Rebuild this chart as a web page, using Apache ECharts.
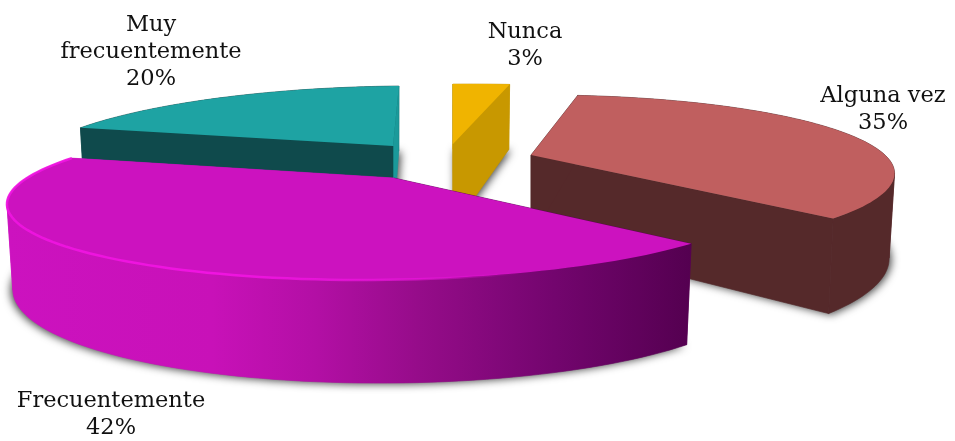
<!DOCTYPE html>
<html><head><meta charset="utf-8">
<style>html,body{margin:0;padding:0;background:#fff}#c{width:955px;height:441px}</style>
<script src="https://cdn.jsdelivr.net/npm/echarts@6/dist/echarts.min.js"></script>
</head><body><div id="c"></div>
<script>
// Data (drawn back to front, clockwise from the first slice)
const categories = ['Muy\nfrecuentemente', 'Nunca', 'Alguna vez', 'Frecuentemente'];
const values = [20, 3, 35, 42];

// Styling and layout of the exploded perspective pie
const startAngle = 194.9;
const turn = [0, 0, 0, 1.5];
const apexX = [393, 453, 531, 394];
const apexY = [146, 144, 155, 178];
const radiusX = [352, 380, 354, 367];
const shear = [-0.35, -0.27, -0.15, -0.3];
const wallSkew = [0, 0, -3, 5];
const topColors = ['#1ea3a3', '#f0b400', '#c05f5f', '#cc12bf'];
const cutStart = ['#0f4a4c', '#c89800', '#55292a', '#5a0055'];
const cutEnd = ['#1a9a9a', '#c89800', '#55292a', '#cc12bf'];
const labelX = [151, 525, 883, 111];
const labelY = [52, 46, 110, 415];
const persp = 0.259, radiusY = 75.6, wallBase = 84, wallTilt = 19, baseInset = 0.985;

const total = values.reduce((a, b) => a + b, 0);
function sliceStart(i) {
  let a = startAngle;
  for (let k = 0; k < i; k++) a += values[k] / total * 360;
  return a + turn[i];
}
function project(i, wx, wy) {
  const d = 1 - persp * wy;
  const y = radiusY * wy / d;
  const x = radiusX[i] * wx / d + shear[i] * y;
  return [x, y];
}
function topPt(i, wx, wy) {
  const p = project(i, wx, wy);
  return [apexX[i] + p[0], apexY[i] + p[1]];
}
function botPt(i, wx, wy) {
  const p = project(i, wx, wy);
  return [apexX[i] + p[0] * baseInset, apexY[i] + p[1] + wallBase + wallTilt * wy + wallSkew[i] * wx];
}
function renderItem(params, api) {
  const i = params.dataIndex;
  const v = api.value(0);
  const a0 = sliceStart(i);
  const sweep = v / total * 360;
  const rimW = [];
  const n = 90;
  for (let k = 0; k <= n; k++) {
    const t = (a0 + sweep * k / n) * Math.PI / 180;
    rimW.push([Math.cos(t), Math.sin(t)]);
  }
  const rimTop = rimW.map(w => topPt(i, w[0], w[1]));
  const rimBot = rimW.map(w => botPt(i, w[0], w[1]));
  const aT = topPt(i, 0, 0), aB = botPt(i, 0, 0);
  const children = [];
  // soft ground shadow under the base
  children.push({ type: 'polygon', shape: { points: [aB].concat(rimBot) },
    style: { fill: '#777', shadowColor: 'rgba(0,0,0,0.75)', shadowBlur: 9, shadowOffsetX: i === 3 ? -2 : 2, shadowOffsetY: 1 } });
  // cut faces
  const first = { type: 'polygon', shape: { points: [aT, rimTop[0], rimBot[0], aB] }, style: { fill: cutStart[i], stroke: cutStart[i], lineWidth: 0.6 } };
  const last = { type: 'polygon', shape: { points: [aT, rimTop[n], rimBot[n], aB] }, style: { fill: cutEnd[i], stroke: cutEnd[i], lineWidth: 0.6 } };
  // outer rim: split wherever the rim turns back horizontally so folds stay filled
  const xs = rimTop.map(p => p[0]);
  const minX = Math.min.apply(null, xs), maxX = Math.max.apply(null, xs);
  const rimFill = i === 3
    ? new echarts.graphic.LinearGradient(minX, 0, maxX, 0, [
        { offset: 0, color: '#cc12bf' }, { offset: 0.3, color: '#c811b8' },
        { offset: 0.45, color: '#b30fa5' }, { offset: 0.6, color: '#960c8a' },
        { offset: 0.8, color: '#73056e' }, { offset: 1, color: '#540050' }], true)
    : cutStart[i];
  const rims = [];
  let from = 0;
  for (let k = 1; k <= n; k++) {
    const turnsBack = k < n && (xs[k] - xs[k - 1]) * (xs[k + 1] - xs[k]) < 0;
    if (turnsBack || k === n) {
      rims.push({ type: 'polygon',
        shape: { points: rimTop.slice(from, k + 1).concat(rimBot.slice(from, k + 1).reverse()) },
        style: { fill: rimFill, stroke: rimFill, lineWidth: 0.6 } });
      from = k;
    }
  }
  if (i === 0) children.push(...rims, last, first);
  else if (i === 1) children.push(first, ...rims, last);
  else children.push(last, first, ...rims);
  // top face
  children.push({ type: 'polygon', shape: { points: [aT].concat(rimTop) }, style: { fill: topColors[i] } });
  if (i === 3) {
    children.push({ type: 'polyline', shape: { points: rimTop },
      style: { fill: null, lineWidth: 2.5, stroke: new echarts.graphic.LinearGradient(minX, 0, maxX, 0, [
        { offset: 0, color: 'rgba(240,20,225,0.9)' }, { offset: 0.3, color: 'rgba(240,20,225,1)' },
        { offset: 0.6, color: 'rgba(240,20,225,0.6)' }, { offset: 0.75, color: 'rgba(240,20,225,0)' }, { offset: 1, color: 'rgba(240,20,225,0)' }], true) } });
  }
  // label
  children.push({ type: 'text', style: {
    text: categories[i] + '\n' + v + '%', x: labelX[i], y: labelY[i], align: 'center', verticalAlign: 'middle',
    font: '22.5px "DejaVu Serif"', lineHeight: 27, fill: '#111' } });
  return { type: 'group', children };
}
const chart = echarts.init(document.getElementById('c'), null, { renderer: 'canvas' });
chart.setOption({
  backgroundColor: '#fff',
  animation: false,
  series: [{ type: 'custom', coordinateSystem: 'none', renderItem, data: values.map(v => [v]), silent: true }]
});
</script></body></html>
